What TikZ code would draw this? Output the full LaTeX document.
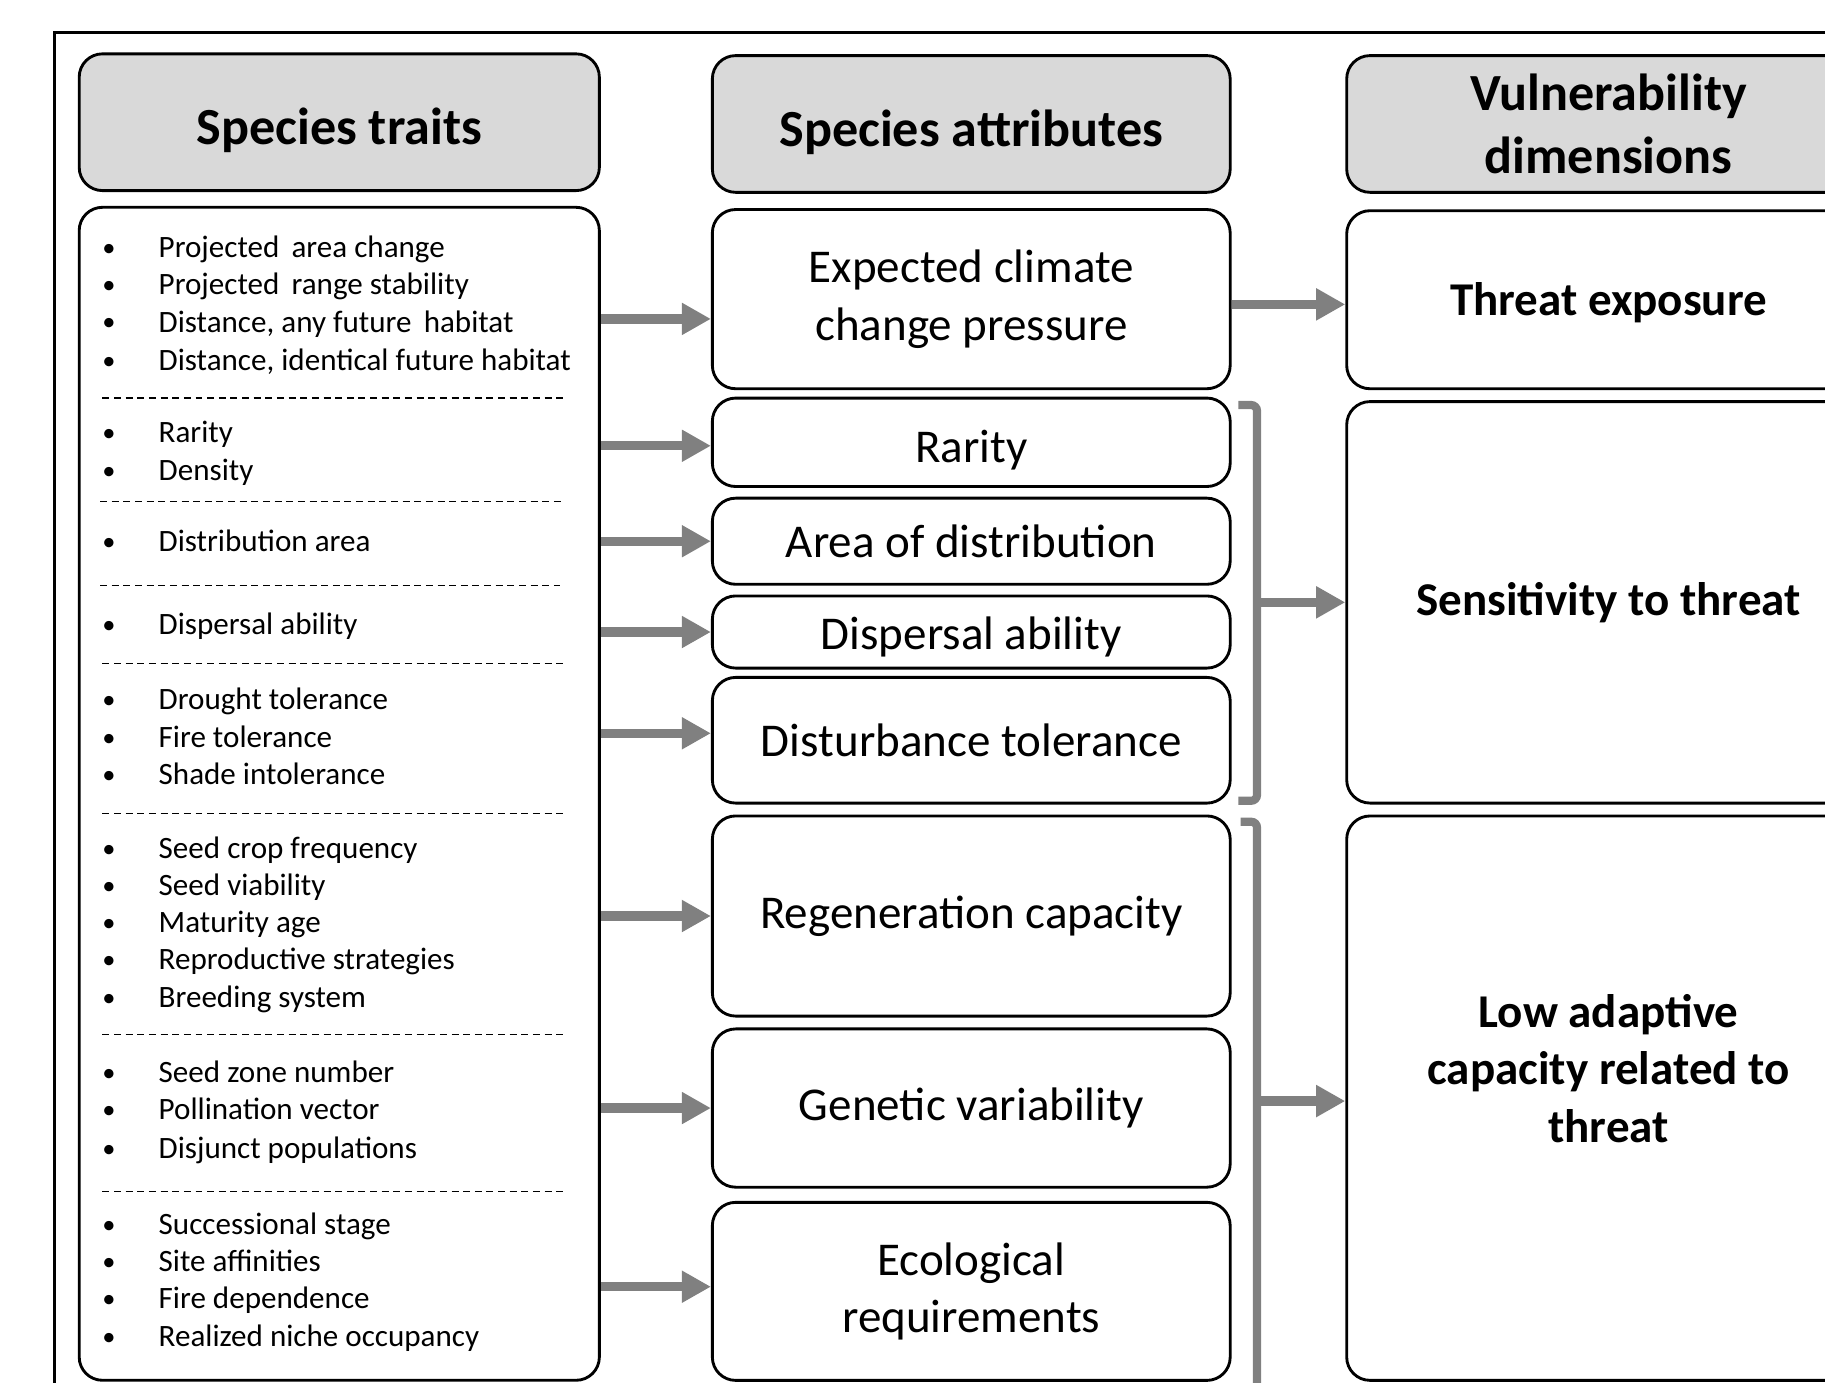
\documentclass[tikz,border=0pt]{standalone}
\usepackage{fontspec}
\setmainfont{Carlito}
\usetikzlibrary{arrows.meta}

\definecolor{hdrgray}{RGB}{217,217,217}
\definecolor{arrgray}{RGB}{128,128,128}

\newcommand{\itm}[1]{\makebox[1.0cm][l]{\hspace{0.03cm}\raisebox{0.5pt}{\scalebox{0.85}{\textbullet}}}#1}
\newcommand{\lowered}[2][4pt]{\raisebox{-#1}[\height][\depth]{#2}}

\begin{document}
\begin{tikzpicture}[x=0.02cm, y=-0.02cm, font=\fontsize{15.2}{18.4}\selectfont,
  hdr/.style={draw, line width=1.4pt, rounded corners=0.4cm, fill=hdrgray, align=center,
    font=\fontsize{25.5}{30.7}\selectfont\bfseries, minimum width=8.94cm, minimum height=2.35cm},
  box/.style={draw, line width=1.4pt, rounded corners=0.4cm, fill=white, align=center,
    font=\fontsize{23}{28}\selectfont, minimum width=8.9cm},
  dimbox/.style={box, font=\fontsize{23}{28}\selectfont\bfseries, minimum width=9cm},
  trait/.style={anchor=west, inner sep=0pt, text height=1.5ex, text depth=0.25ex, yshift=-0.08cm},
  sep/.style={line width=0.6pt, dash pattern=on 0.12cm off 0.08cm},
  arr/.style={arrgray, line width=4.5pt, -{Triangle[length=0.5cm, width=0.52cm]}},
  brk/.style={arrgray, line width=4pt, rounded corners=0.1cm}]

\useasboundingbox (0,0) rectangle (1568,1188);
\clip (0,0) rectangle (1568,1188);

% Outer frame
\draw[line width=1.6pt] (47,28) rectangle (1640,1260);

% Headers
\node[hdr] (hdrtraits) at (291.5,105) {\lowered{Species traits}};
\node[hdr, minimum width=8.9cm] (hdrattr) at (834.5,106.5) {\lowered{Species attributes}};
\node[hdr, minimum width=9cm] (hdrdim) at (1382,106.5) {Vulnerability\\dimensions};

% Species traits box
\node[box, minimum width=8.94cm, minimum height=20.16cm] (traits) at (291.5,682) {};

% Trait list
\node[trait] (t1) at (86,212) {\itm{Projected\, area change}};
\node[trait] (t2) at (86,244) {\itm{Projected\, range stability}};
\node[trait] (t3) at (86,276) {\itm{Distance, any future\, habitat}};
\node[trait] (t4) at (86,309) {\itm{Distance, identical future habitat}};
\draw[sep] (88,342) -- (486,342);
\node[trait] (t5) at (86,371) {\itm{Rarity}};
\node[trait] (t6) at (86,404) {\itm{Density}};
\draw[sep] (86,431) -- (483,431);
\node[trait] (t7) at (86,465) {\itm{Distribution area}};
\draw[sep] (86,503) -- (481,503);
\node[trait] (t8) at (86,536) {\itm{Dispersal ability}};
\draw[sep] (88,570) -- (486,570);
\node[trait] (t9) at (86,600) {\itm{Drought tolerance}};
\node[trait] (t10) at (86,633) {\itm{Fire tolerance}};
\node[trait] (t11) at (86,665) {\itm{Shade intolerance}};
\draw[sep] (88,699) -- (486,699);
\node[trait] (t12) at (86,728) {\itm{Seed crop frequency}};
\node[trait] (t13) at (86,760) {\itm{Seed viability}};
\node[trait] (t14) at (86,792) {\itm{Maturity age}};
\node[trait] (t15) at (86,824) {\itm{Reproductive strategies}};
\node[trait] (t16) at (86,856) {\itm{Breeding system}};
\draw[sep] (88,889) -- (486,889);
\node[trait] (t17) at (86,921) {\itm{Seed zone number}};
\node[trait] (t18) at (86,953) {\itm{Pollination vector}};
\node[trait] (t19) at (86,986) {\itm{Disjunct populations}};
\draw[sep] (88,1024) -- (486,1024);
\node[trait] (t20) at (86,1051) {\itm{Successional stage}};
\node[trait] (t21) at (86,1083) {\itm{Site affinities}};
\node[trait] (t22) at (86,1115) {\itm{Fire dependence}};
\node[trait] (t23) at (86,1148) {\itm{Realized niche occupancy}};

% Species attributes
\node[box, minimum height=3.08cm] (ecc) at (834.5,257) {Expected climate\\change pressure};
\node[box, minimum height=1.52cm] (rar) at (834.5,380) {\lowered{Rarity}};
\node[box, minimum height=1.48cm] (area) at (834.5,465) {Area of distribution};
\node[box, minimum height=1.24cm] (disp) at (834.5,543) {\lowered[2.3pt]{Dispersal ability}};
\node[box, minimum height=2.16cm] (dist) at (834.5,636) {Disturbance tolerance};
\node[box, minimum height=3.44cm] (regen) at (834.5,787) {Regeneration capacity};
\node[box, minimum height=2.72cm] (gen) at (834.5,952) {Genetic variability};
\node[box, minimum height=3.06cm] (eco) at (834.5,1109.5) {Ecological\\requirements};

% Vulnerability dimensions
\node[dimbox, minimum height=3.06cm] (threat) at (1382,257.5) {\lowered[1.7pt]{Threat exposure}};
\node[dimbox, minimum height=6.9cm] (sens) at (1382,517.5) {Sensitivity to threat};
\node[dimbox, minimum height=9.7cm] (low) at (1382,943.5) {};
\node[align=center, font=\fontsize{23}{28}\selectfont\bfseries] (lowtext) at (1382,918)
  {Low adaptive\\capacity related to\\threat};

% Arrows traits -> attributes
\draw[arr] ([yshift=-0.34cm]traits.east |- ecc.west) -- ([yshift=-0.34cm]ecc.west);
\draw[arr] ([yshift=-0.06cm]traits.east |- rar.west) -- ([yshift=-0.06cm]rar.west);
\draw[arr] (traits.east |- area.west) -- (area.west);
\draw[arr] (traits.east |- disp.west) -- (disp.west);
\draw[arr] ([yshift=0.12cm]traits.east |- dist.west) -- ([yshift=0.12cm]dist.west);
\draw[arr] (traits.east |- regen.west) -- (regen.west);
\draw[arr] (traits.east |- gen.west) -- (gen.west);
\draw[arr] ([yshift=0.08cm]traits.east |- eco.west) -- ([yshift=0.08cm]eco.west);

% Arrow attributes -> exposure
\draw[arr] ([yshift=-0.08cm]ecc.east |- threat.west) -- ([yshift=-0.08cm]threat.west);

% Bracket for sensitivity
\draw[brk] (1064,348) -- (1080,348) -- (1080,688) -- (1064,688);
\coordinate (brksens) at (1080,517.5);
\draw[arr] (brksens) -- (sens.west);

% Bracket for adaptive capacity
\draw[brk] (1066,706) -- (1080,706) -- (1080,1260);
\coordinate (brklow) at (1080,946);
\draw[arr] (brklow) -- (low.west |- brklow);

\end{tikzpicture}
\end{document}
